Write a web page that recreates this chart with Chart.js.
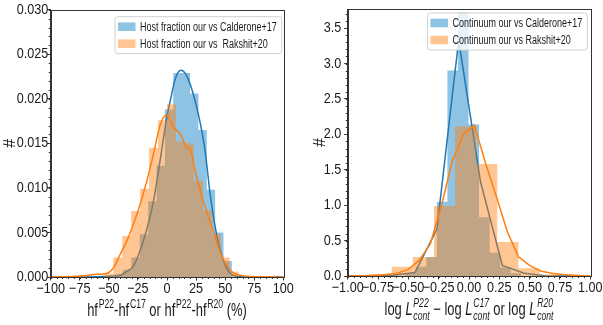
<!DOCTYPE html>
<html>
<head>
<meta charset="utf-8">
<script src="https://cdn.jsdelivr.net/npm/chart.js@4.4.1/dist/chart.umd.min.js"></script>
<style>
    html, body { margin: 0; padding: 0; background: #fff; }
    #wrap { position: relative; width: 603px; height: 325px; }
    .panel { position: absolute; top: 0; height: 325px; }
    #left { left: 0; width: 300px; }
    #right { left: 300px; width: 303px; }
</style>
</head>
<body>
<div id="wrap">
    <div class="panel" id="left"><canvas id="hfChart"></canvas></div>
    <div class="panel" id="right"><canvas id="contChart"></canvas></div>
</div>
<script>
// Host fraction histograms (left panel), density per bin
const hfBlueEdges = [-45, -37.8, -30.6, -23.4, -16.2, -9, -1.8, 5.4, 12.6, 19.8, 27, 34.2, 41.4, 48.6, 55.8];
const hfBlueHeights = [0.0003, 0.0008, 0.0022, 0.0048, 0.0085, 0.0125, 0.0188, 0.0229, 0.0229, 0.0206, 0.0165, 0.0098, 0.0050, 0.0018];
const hfOrangeEdges = [-53.9, -46.2, -38.5, -30.8, -23.1, -15.4, -7.7, 0, 7.7, 15.4, 23.1, 30.8, 38.5, 46.2, 53.9, 61.6];
const hfOrangeHeights = [0.0004, 0.0022, 0.0046, 0.0074, 0.0099, 0.0145, 0.0176, 0.0194, 0.0152, 0.0150, 0.0108, 0.0075, 0.0048, 0.0022, 0.0006];

// KDE curves (left panel)
const hfBlueKdeX = [-100, -60, -46, -40, -35, -29, -23, -17.5, -11.8, -6, -0.3, 4, 7, 12, 16, 19.8, 26.9, 32.7, 37, 41.3, 45.6, 51.3, 58.5, 70, 100];
const hfBlueKdeY = [0, 0.00003, 0.0001, 0.0002, 0.0006, 0.0012, 0.003, 0.0053, 0.0084, 0.013, 0.0178, 0.0205, 0.0222, 0.0232, 0.0228, 0.0217, 0.0183, 0.0142, 0.0094, 0.0057, 0.0031, 0.001, 0.0001, 0, 0];
const hfOrangeKdeX = [-100, -75, -60, -51.9, -46.2, -40.4, -34.7, -29, -23.2, -17.5, -11.8, -6, -0.3, 5.4, 11.2, 17, 19.8, 24.1, 28.4, 32.7, 38.4, 44.1, 49.9, 55.6, 67, 80, 100];
const hfOrangeKdeY = [0, 0.0001, 0.0003, 0.0004, 0.001, 0.0025, 0.004, 0.0059, 0.0081, 0.0107, 0.0137, 0.017, 0.0182, 0.0168, 0.0161, 0.0146, 0.0144, 0.012, 0.0098, 0.0079, 0.0057, 0.0034, 0.0016, 0.0006, 0.0001, 0.00003, 0];

// Continuum histograms (right panel)
const contBlueEdges = [-0.526, -0.439, -0.352, -0.265, -0.178, -0.091, -0.004, 0.083, 0.170, 0.257, 0.344, 0.431];
const contBlueHeights = [0.04, 0.13, 0.27, 1.05, 2.90, 3.72, 2.14, 0.83, 0.33, 0.12, 0.04];
const contOrangeEdges = [-0.811, -0.637, -0.463, -0.289, -0.115, 0.059, 0.233, 0.407, 0.581, 0.755];
const contOrangeHeights = [0.03, 0.13, 0.27, 0.99, 2.11, 1.58, 0.48, 0.11, 0.02];

// KDE polylines (right panel)
const contBlueKdeX = [-1.0, -0.805, -0.625, -0.445, -0.265, -0.085, 0.095, 0.275, 0.455, 0.635, 0.815, 1.0];
const contBlueKdeY = [0, 0, 0.01, 0.05, 0.66, 3.33, 1.33, 0.15, 0.04, 0, 0, 0];
const contOrangeKdeX = [-1.0, -0.866, -0.775, -0.684, -0.593, -0.502, -0.411, -0.32, -0.229, -0.138, -0.047, 0.044, 0.135, 0.226, 0.317, 0.408, 0.499, 0.59, 0.681, 0.772, 0.863, 1.0];
const contOrangeKdeY = [0, 0.005, 0.01, 0.02, 0.04, 0.09, 0.22, 0.45, 0.98, 1.62, 2.00, 2.13, 1.60, 1.12, 0.62, 0.27, 0.15, 0.07, 0.04, 0.02, 0.01, 0];

const hfLabels = ['Host fraction our vs Calderone+17', 'Host fraction our vs  Rakshit+20'];
const contLabels = ['Continuum our vs Calderone+17', 'Continuum our vs Rakshit+20'];

const FONT = "'Liberation Sans', Arial, sans-serif";
const BLUE = '#1f77b4';
const ORANGE = '#ff7f0e';
const BLUE_FILL = 'rgba(31, 135, 200, 0.5)';
const ORANGE_FILL = 'rgba(255, 127, 14, 0.45)';
const TEXT = '#1a1a1a';

Chart.defaults.font.family = FONT;

function stepPoints(edges, heights) {
    const pts = heights.map((h, i) => ({ x: edges[i], y: h }));
    pts.push({ x: edges[edges.length - 1], y: heights[heights.length - 1] });
    return pts;
}

function curvePoints(xs, ys) {
    return xs.map((x, i) => ({ x: x, y: ys[i] }));
}

function minusLabel(v, digits) {
    const s = Math.abs(v).toFixed(digits);
    return (v < -1e-9 ? '\u2212' : '') + s;
}

// the original uses a narrow font, so squeeze text horizontally
function narrowText(ctx, text, x, y, font, sx, align, baseline) {
    ctx.save();
    ctx.translate(x, y);
    ctx.scale(sx, 1);
    ctx.font = font;
    ctx.textAlign = align;
    ctx.textBaseline = baseline;
    ctx.fillText(text, 0, 0);
    ctx.restore();
}

// text with super/subscripts, centred on cx
function drawRich(ctx, parts, cx, base, size, sx) {
    const small = Math.round(size * 0.68);
    const fnt = (sz, it) => (it ? 'italic ' : '') + sz + 'px ' + FONT;
    const widths = parts.map(p => {
        ctx.font = fnt(size, p.italic);
        const w = ctx.measureText(p.text).width;
        ctx.font = fnt(small, p.scriptItalic);
        const ws = Math.max(p.sup ? ctx.measureText(p.sup).width : 0, p.sub ? ctx.measureText(p.sub).width : 0);
        return { w: w, ws: ws };
    });
    const total = widths.reduce((s, w) => s + w.w + (w.ws ? w.ws + 1 : 0), 0);
    ctx.save();
    ctx.translate(cx - total * sx / 2, base);
    ctx.scale(sx, 1);
    ctx.textBaseline = 'alphabetic';
    ctx.textAlign = 'left';
    let x = 0;
    parts.forEach((p, i) => {
        ctx.font = fnt(size, p.italic);
        ctx.fillText(p.text, x, 0);
        x += widths[i].w;
        if (widths[i].ws) {
            ctx.font = fnt(small, p.scriptItalic);
            if (p.sup) ctx.fillText(p.sup, x + 1, -size * 0.42);
            if (p.sub) ctx.fillText(p.sub, x + 1, size * 0.28);
            x += widths[i].ws + 1;
        }
    });
    ctx.restore();
}

// matplotlib-like frame, minor ticks, tick labels, axis titles and legend
const mplAxes = {
    id: 'mplAxes',
    afterDraw(chart, args, opts) {
        const { ctx, chartArea: a } = chart;
        const xs = chart.scales.x, ys = chart.scales.y;
        ctx.save();
        ctx.strokeStyle = '#333';
        ctx.lineWidth = 1;
        ctx.beginPath();
        const nx = Math.round((xs.max - xs.min) / opts.xMinor);
        for (let i = 0; i <= nx; i++) {
            const px = Math.round(xs.getPixelForValue(xs.min + i * opts.xMinor)) + 0.5;
            ctx.moveTo(px, a.bottom);
            ctx.lineTo(px, a.bottom + 2);
        }
        const ny = Math.floor((ys.max - ys.min) / opts.yMinor + 1e-6);
        for (let i = 0; i <= ny; i++) {
            const py = Math.round(ys.getPixelForValue(ys.min + i * opts.yMinor)) + 0.5;
            ctx.moveTo(a.left, py);
            ctx.lineTo(a.left - 2, py);
        }
        ctx.stroke();
        ctx.strokeRect(Math.round(a.left) + 0.5, Math.round(a.top) + 0.5, Math.round(a.width), Math.round(a.height));

        // tick labels
        ctx.fillStyle = TEXT;
        const tickFont = '15px ' + FONT;
        xs.ticks.forEach(t => {
            narrowText(ctx, minusLabel(t.value, opts.xDigits), xs.getPixelForValue(t.value), a.bottom + opts.xLabelDrop,
                tickFont, 0.84, 'center', 'alphabetic');
        });
        ys.ticks.forEach(t => {
            narrowText(ctx, minusLabel(t.value, opts.yDigits), a.left - opts.yLabelGap, ys.getPixelForValue(t.value),
                tickFont, 0.84, 'right', 'middle');
        });

        // legend box
        const lg = opts.legend;
        const sx = 0.72;
        const lgFont = lg.size + 'px ' + FONT;
        ctx.font = lgFont;
        const tw = Math.max(...lg.items.map(it => ctx.measureText(it.label).width)) * sx;
        const bw = 3 + 17.5 + 4.5 + tw + 5;
        const bh = lg.items.length * lg.row + 3;
        const bx = a.right - lg.right - bw, by = a.top + lg.top;
        ctx.fillStyle = 'rgba(255,255,255,0.8)';
        ctx.strokeStyle = '#d0d0d0';
        ctx.beginPath();
        ctx.roundRect(bx, by, bw, bh, 3);
        ctx.fill();
        ctx.stroke();
        lg.items.forEach((it, i) => {
            const cy = by + 1.5 + lg.row * (i + 0.5);
            ctx.fillStyle = it.color;
            ctx.fillRect(bx + 3, cy - 4.3, 17.5, 8.6);
            ctx.fillStyle = TEXT;
            narrowText(ctx, it.label, bx + 3 + 17.5 + 4.5, cy + 0.5, lgFont, sx, 'left', 'middle');
        });

        // axis titles
        ctx.fillStyle = TEXT;
        drawRich(ctx, opts.xTitle, (a.left + a.right) / 2, opts.xTitleBase, opts.xTitleSize, 0.72);
        ctx.save();
        ctx.translate(opts.yTitleX, (a.top + a.bottom) / 2);
        ctx.rotate(-Math.PI / 2);
        ctx.font = '16px ' + FONT;
        ctx.textAlign = 'center';
        ctx.textBaseline = 'middle';
        ctx.fillText('#', 0, 0);
        ctx.restore();
        ctx.restore();
    }
};

function histSet(label, edges, heights, fill, order) {
    return {
        label: label,
        data: stepPoints(edges, heights),
        stepped: 'before',
        fill: 'origin',
        backgroundColor: fill,
        borderWidth: 0,
        pointRadius: 0,
        order: order
    };
}

function kdeSet(xs, ys, color, smooth, order) {
    return {
        data: curvePoints(xs, ys),
        borderColor: color,
        borderWidth: 1.5,
        pointRadius: 0,
        fill: false,
        cubicInterpolationMode: smooth ? 'monotone' : 'default',
        tension: 0,
        order: order
    };
}

function makeChart(id, cfg) {
    return new Chart(document.getElementById(id), {
        type: 'line',
        data: { datasets: cfg.datasets },
        plugins: [mplAxes],
        options: {
            responsive: true,
            maintainAspectRatio: false,
            animation: false,
            events: [],
            layout: { padding: cfg.padding },
            scales: {
                x: {
                    type: 'linear',
                    min: cfg.xMin, max: cfg.xMax,
                    afterFit: s => { s.height = cfg.xAxisHeight; },
                    border: { display: true, color: '#333' },
                    grid: { drawOnChartArea: false, tickLength: 3.5, tickColor: '#333' },
                    ticks: { stepSize: cfg.xStep, display: false }
                },
                y: {
                    min: 0, max: cfg.yMax,
                    afterFit: s => { s.width = cfg.yAxisWidth; },
                    afterBuildTicks: s => {
                        s.ticks = s.ticks.filter(t => Math.abs(t.value / cfg.yStep - Math.round(t.value / cfg.yStep)) < 1e-6);
                    },
                    border: { display: true, color: '#333' },
                    grid: { drawOnChartArea: false, tickLength: 3.5, tickColor: '#333' },
                    ticks: { stepSize: cfg.yStep, display: false }
                }
            },
            plugins: {
                legend: { display: false },
                tooltip: { enabled: false },
                mplAxes: cfg.axes
            }
        }
    });
}

makeChart('hfChart', {
    datasets: [
        histSet(hfLabels[0], hfBlueEdges, hfBlueHeights, BLUE_FILL, 4),
        kdeSet(hfBlueKdeX, hfBlueKdeY, BLUE, true, 3),
        histSet(hfLabels[1], hfOrangeEdges, hfOrangeHeights, ORANGE_FILL, 2),
        kdeSet(hfOrangeKdeX, hfOrangeKdeY, ORANGE, true, 1)
    ],
    padding: { top: 9.7, right: 16.7, left: 0, bottom: 0 },
    xMin: -100, xMax: 100, xStep: 25, xAxisHeight: 48,
    yMax: 0.03, yStep: 0.005, yAxisWidth: 50.7,
    axes: {
        xMinor: 5, yMinor: 0.001, xDigits: 0, yDigits: 3,
        xLabelDrop: 16.3, yLabelGap: 2.5,
        xTitle: [
            { text: 'hf', sup: 'P22' }, { text: '-hf', sup: 'C17' },
            { text: ' or hf', sup: 'P22' }, { text: '-hf', sup: 'R20' }, { text: ' (%)' }
        ],
        xTitleBase: 316, xTitleSize: 18, yTitleX: 11,
        legend: {
            size: 12.5, row: 17, top: 7, right: 1.5,
            items: [{ label: hfLabels[0], color: BLUE_FILL }, { label: hfLabels[1], color: ORANGE_FILL }]
        }
    }
});

makeChart('contChart', {
    datasets: [
        histSet(contLabels[0], contBlueEdges, contBlueHeights, BLUE_FILL, 4),
        kdeSet(contBlueKdeX, contBlueKdeY, BLUE, false, 3),
        histSet(contLabels[1], contOrangeEdges, contOrangeHeights, ORANGE_FILL, 2),
        kdeSet(contOrangeKdeX, contOrangeKdeY, ORANGE, false, 1)
    ],
    padding: { top: 9, right: 12.7, left: 0, bottom: 0 },
    xMin: -1, xMax: 1, xStep: 0.25, xAxisHeight: 49,
    yMax: 3.77, yStep: 0.5, yAxisWidth: 47.7,
    axes: {
        xMinor: 0.05, yMinor: 0.1, xDigits: 2, yDigits: 1,
        xLabelDrop: 15.7, yLabelGap: 6.5,
        xTitle: [
            { text: 'log ' },
            { text: 'L', italic: true, sup: 'P22', sub: 'cont', scriptItalic: true },
            { text: ' \u2212 log ' },
            { text: 'L', italic: true, sup: 'C17', sub: 'cont', scriptItalic: true },
            { text: ' or log ' },
            { text: 'L', italic: true, sup: 'R20', sub: 'cont', scriptItalic: true }
        ],
        xTitleBase: 315, xTitleSize: 18, yTitleX: 21,
        legend: {
            size: 12.5, row: 17, top: 4, right: 3,
            items: [{ label: contLabels[0], color: BLUE_FILL }, { label: contLabels[1], color: ORANGE_FILL }]
        }
    }
});
</script>
</body>
</html>
